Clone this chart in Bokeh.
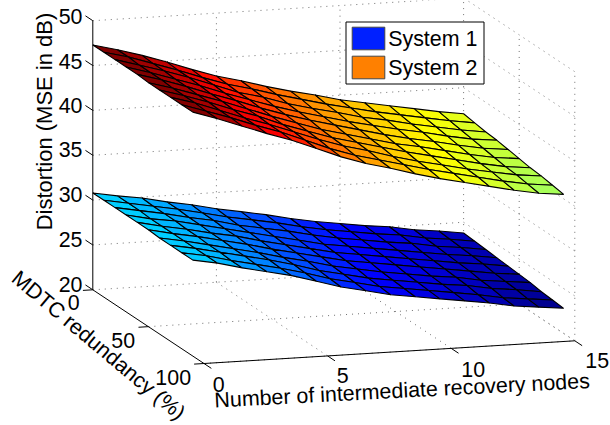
from bokeh.plotting import figure
from bokeh.models import Range1d, ColumnDataSource
from bokeh.core.properties import value
from bokeh.embed import file_html
from bokeh.resources import INLINE
import math

nodes = list(range(16))
redundancy = [0, 10, 20, 30, 40, 50, 60, 70, 80, 90]
system2 = [
 [47.3,46.6,45.8,44.9,43.9,43.0,42.3,41.5,40.8,40.2,39.5,39.0,38.5,38.0,37.5,37.1],
 [47.3,46.6,45.7,44.8,43.8,42.9,42.2,41.4,40.7,40.0,39.4,38.8,38.3,37.8,37.3,36.9],
 [47.3,46.5,45.7,44.8,43.8,42.8,42.1,41.2,40.5,39.9,39.2,38.7,38.1,37.6,37.1,36.7],
 [47.3,46.5,45.6,44.7,43.7,42.8,41.9,41.1,40.4,39.7,39.1,38.5,38.0,37.4,36.9,36.6],
 [47.3,46.5,45.6,44.6,43.7,42.7,41.8,41.0,40.3,39.6,38.9,38.3,37.8,37.2,36.7,36.4],
 [47.2,46.4,45.5,44.6,43.6,42.6,41.7,40.8,40.1,39.4,38.7,38.2,37.6,37.0,36.5,36.2],
 [47.2,46.4,45.5,44.5,43.6,42.5,41.6,40.7,40.0,39.3,38.6,38.0,37.4,36.8,36.3,36.0],
 [47.2,46.4,45.4,44.4,43.5,42.5,41.5,40.6,39.9,39.1,38.4,37.8,37.2,36.7,36.2,35.9],
 [47.2,46.3,45.4,44.4,43.5,42.4,41.3,40.4,39.7,39.0,38.3,37.7,37.1,36.5,36.0,35.7],
 [47.2,46.3,45.3,44.3,43.4,42.3,41.2,40.3,39.6,38.8,38.1,37.5,36.9,36.3,35.8,35.5],
]
system1 = [
 [30.8,30.3,29.9,29.3,28.8,28.2,27.7,27.2,26.6,26.1,25.7,25.3,25.0,24.5,24.2,23.8],
 [30.8,30.3,29.8,29.3,28.7,28.1,27.6,27.1,26.5,26.0,25.6,25.2,24.9,24.4,24.1,23.7],
 [30.8,30.3,29.8,29.2,28.7,28.0,27.5,27.0,26.4,25.9,25.5,25.1,24.8,24.3,24.0,23.6],
 [30.8,30.2,29.8,29.2,28.6,28.0,27.4,26.8,26.2,25.8,25.4,25.0,24.6,24.2,23.9,23.5],
 [30.8,30.2,29.7,29.1,28.6,27.9,27.3,26.7,26.1,25.7,25.3,24.9,24.5,24.1,23.8,23.4],
 [30.8,30.2,29.7,29.1,28.5,27.8,27.2,26.6,26.0,25.6,25.2,24.8,24.4,24.0,23.6,23.3],
 [30.7,30.2,29.6,29.0,28.4,27.7,27.1,26.4,25.9,25.4,25.0,24.6,24.3,23.8,23.5,23.2],
 [30.7,30.2,29.6,29.0,28.4,27.7,26.9,26.3,25.7,25.3,24.9,24.5,24.2,23.7,23.4,23.0],
 [30.7,30.2,29.5,28.9,28.3,27.6,26.8,26.2,25.6,25.2,24.8,24.4,24.0,23.5,23.2,22.9],
 [30.7,30.2,29.5,28.9,28.3,27.5,26.7,26.1,25.5,25.1,24.7,24.3,23.9,23.4,23.1,22.8],
]
x_ticks = [0, 5, 10, 15]
m_ticks = [0, 50, 100]
z_ticks = [20, 25, 30, 35, 40, 45, 50]
legend_labels = ["System 1", "System 2"]
legend_colors = ["#0020ff", "#ff8000"]
FONT = value("Liberation Sans")


def proj(x, m, z):
    px = 92.3 + 24.72 * x + 1.112 * m
    py = 289.3 - 1.513 * x + 0.737 * m - 8.97 * (z - 20)
    return px, py


def jet(f):
    f = max(0.0, min(1.0, f))
    c = lambda v: int(round(255 * max(0.0, min(1.0, v))))
    return "#%02x%02x%02x" % (c(1.5 - abs(4 * f - 3)), c(1.5 - abs(4 * f - 2)), c(1.5 - abs(4 * f - 1)))


p = figure(width=610, height=425, output_backend="svg", toolbar_location=None,
           x_range=Range1d(0, 610), y_range=Range1d(425, 0), min_border=0,
           margin=0, outline_line_color=None)
p.xaxis.visible = False
p.yaxis.visible = False
p.grid.visible = False


def seg(a, b, **kw):
    (x0, y0), (x1, y1) = proj(*a), proj(*b)
    p.line([x0, x1], [y0, y1], **kw)


dot = dict(line_color="#707070", line_dash="1 5", line_width=1)
for z in z_ticks:
    seg((0, 0, z), (15, 0, z), **dot)
    seg((15, 0, z), (15, 100, z), **dot)
for x in x_ticks[1:]:
    seg((x, 0, 20), (x, 0, 50), **dot)
    seg((x, 0, 20), (x, 100, 20), **dot)
for m in m_ticks[1:]:
    seg((15, m, 20), (15, m, 50), **dot)
    seg((0, m, 20), (15, m, 20), **dot)

solid = dict(line_color="black", line_width=1)
seg((0, 0, 20), (0, 0, 50), **solid)
seg((0, 0, 20), (0, 100, 20), **solid)
seg((0, 100, 20), (15, 100, 20), **solid)
for z in z_ticks:
    seg((0, 0, z), (0, -6.6, z), **solid)
for m in m_ticks:
    seg((0, m, 20), (-0.4, m, 20), **solid)
for x in x_ticks:
    seg((x, 100, 20), (x, 106.6, 20), **solid)

zmin, zmax = 22.8, 47.3
for surf in (system1, system2):
    xs, ys, cols = [], [], []
    for j in range(len(redundancy) - 1):
        for i in range(len(nodes) - 1):
            corners = [(i, j), (i + 1, j), (i + 1, j + 1), (i, j + 1)]
            pts = [proj(nodes[a], redundancy[b], surf[b][a]) for a, b in corners]
            xs.append([q[0] for q in pts])
            ys.append([q[1] for q in pts])
            cols.append(jet((surf[j][i] - zmin) / (zmax - zmin)))
    p.patches("xs", "ys", source=ColumnDataSource(dict(xs=xs, ys=ys, c=cols)),
              fill_color="c", line_color="black", line_width=1.1)


def label(x, y, s, angle=0, align="center", base="middle", size="21.4px"):
    p.text([x], [y], text=[s], angle=[math.radians(angle)], text_font=FONT,
           text_font_size=size, text_align=align, text_baseline=base, text_color="black")


for z, yy in zip(z_ticks, [283.7, 238.7, 194.3, 149.3, 105, 60.7, 16]):
    label(82, yy, str(z), align="right")
for m, (a, b) in zip(m_ticks, [(73.3, 302), (122.7, 340.3), (172.7, 377)]):
    label(a, b, str(m))
for x, (a, b) in zip(x_ticks, [(218.3, 383.7), (342.3, 375.3), (472.7, 368.7), (596.7, 360.3)]):
    label(a, b, str(x))

label(44, 121, "Distortion (MSE in dB)", angle=90, base="alphabetic", size="22px")
label(214, 400, "Number of intermediate recovery nodes", angle=3, align="left", base="alphabetic")
label(98, 345, "MDTC redundancy (%)", angle=-40, size="21.4px")

p.quad(left=[345.5], right=[483.5], top=[21.5], bottom=[83.5], fill_color="white", line_color="black", line_width=1)
for k, (t, c) in enumerate(zip(legend_labels, legend_colors)):
    top = 26.7 + 29 * k
    p.quad(left=[351.7], right=[384.3], top=[top], bottom=[top + 22.6], fill_color=c, line_color="#444444", line_width=1)
    label(387.7, top + 11.5, t, align="left")

open("out.html", "w").write(file_html(p, INLINE))
